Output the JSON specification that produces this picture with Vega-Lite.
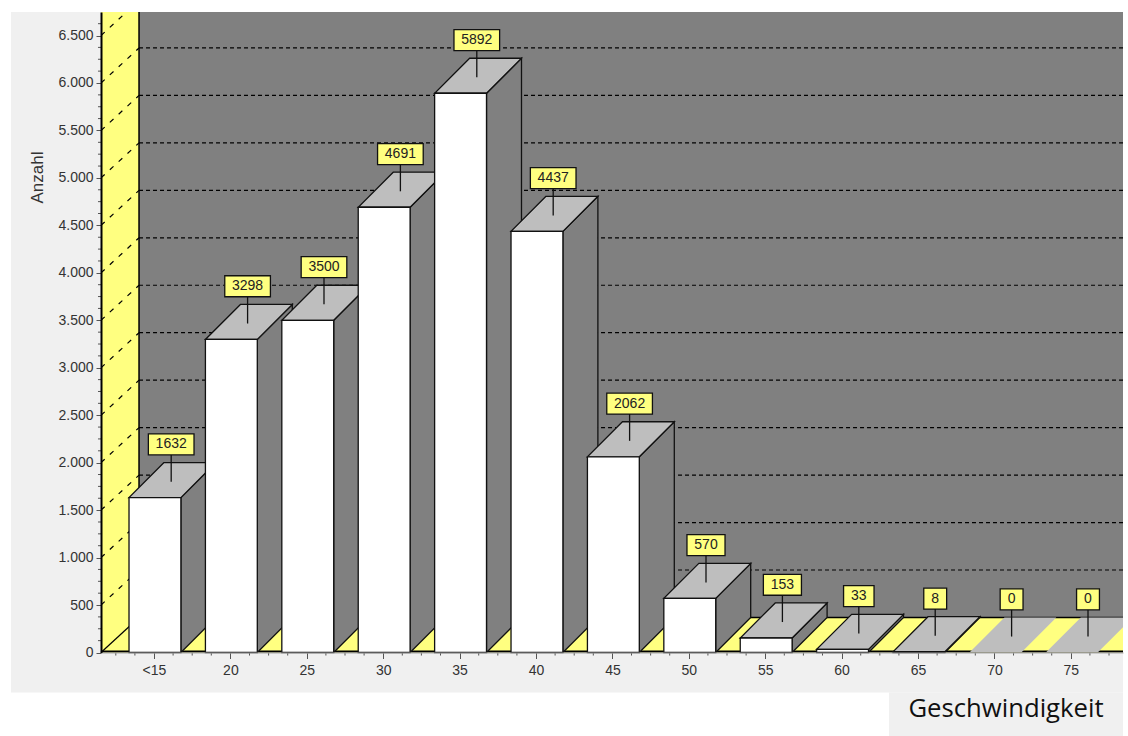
{
"$schema":"https://vega.github.io/schema/vega-lite/v6.json",
"width":1022,"height":640.5,"autosize":"none",
"padding":{"left":101,"top":12,"right":5,"bottom":83.5},
"background":"#ffffff",
"config":{"view":{"stroke":null}},
"data":{"values":[
{"geschwindigkeit":"<15","anzahl":1632},{"geschwindigkeit":"20","anzahl":3298},{"geschwindigkeit":"25","anzahl":3500},{"geschwindigkeit":"30","anzahl":4691},{"geschwindigkeit":"35","anzahl":5892},{"geschwindigkeit":"40","anzahl":4437},{"geschwindigkeit":"45","anzahl":2062},{"geschwindigkeit":"50","anzahl":570},{"geschwindigkeit":"55","anzahl":153},{"geschwindigkeit":"60","anzahl":33},{"geschwindigkeit":"65","anzahl":8},{"geschwindigkeit":"70","anzahl":0},{"geschwindigkeit":"75","anzahl":0}]},
"transform":[
{"window":[{"op":"row_number","as":"nr"}]},
{"calculate":"datum.nr-1","as":"pos"},
{"calculate":"[0,1]","as":"d"},
{"flatten":["d"]},
{"calculate":"datum.pos-0.327+0.458*datum.d","as":"links"},
{"calculate":"datum.pos+0.352+0.458*datum.d","as":"rechts"},
{"calculate":"datum.anzahl+369*datum.d","as":"oben"},
{"calculate":"369*datum.d","as":"unten"},
{"calculate":"0.0497*length(''+datum.anzahl)+0.1","as":"halb"},
{"calculate":"datum.pos+0.225","as":"mitte"},
{"calculate":"datum.mitte-datum.halb","as":"boxL"},
{"calculate":"datum.mitte+datum.halb","as":"boxR"},
{"calculate":"datum.anzahl+168","as":"lineU"},
{"calculate":"datum.anzahl+450","as":"boxU"},
{"calculate":"datum.anzahl+671","as":"boxO"},
{"calculate":"datum.anzahl+560","as":"textY"},
{"calculate":"0","as":"basis"}
],
"layer":[
{"data":{"values":[{"flaeche":"Diagramm"}]},
 "transform":[{"calculate":"-1.872","as":"a"},{"calculate":"12.683","as":"b"},{"calculate":"-421","as":"c"},{"calculate":"6748","as":"e"}],
 "mark":{"type":"rect","fill":"#f0f0f0"},
 "encoding":{
  "x":{"field":"a","type":"quantitative","scale":{"domain":[-0.6937,12.683],"nice":false,"zero":false},
   "axis":{"zindex":1,"title":"Geschwindigkeit","titleFont":"Open Sans","titleFontSize":25.7,"titleFontWeight":"normal","titleColor":"#111111","titleX":904.5,"titleY":56,"titleAlign":"center","titleBaseline":"middle",
    "grid":false,"domainColor":"#a8a8a8","domainWidth":1,"tickColor":"#555555","tickSize":6,
    "values":[0,1,2,3,4,5,6,7,8,9,10,11,12],
    "labelExpr":"datum.value === 0 ? '<15' : '' + (15 + 5 * datum.value)",
    "labelFont":"Liberation Sans","labelFontSize":14,"labelColor":"#333333","labelPadding":5,"labelFlush":false,"labelOverlap":false}},
  "x2":{"field":"b"},
  "y":{"field":"c","type":"quantitative","scale":{"domain":[0,6748],"nice":false,"zero":false},
   "axis":{"zindex":1,"title":"Anzahl","titleFont":"Liberation Sans","titleFontSize":17,"titleFontWeight":"normal","titleColor":"#333333","titleX":-64,"titleY":165,"titleAlign":"center","titleBaseline":"middle",
    "grid":false,"domainColor":"#000000","domainWidth":2,"tickColor":"#555555","tickSize":5,
    "values":[0,500,1000,1500,2000,2500,3000,3500,4000,4500,5000,5500,6000,6500],
    "labelExpr":"replace(format(datum.value, ','), ',', '.')",
    "labelFont":"Liberation Sans","labelFontSize":14,"labelColor":"#333333","labelPadding":3,"labelOverlap":false,"labelFlush":false}},
  "y2":{"field":"e"}}},
{"data":{"values":[{"flaeche":"Titel"}]},
 "transform":[{"calculate":"9.62","as":"a"},{"calculate":"12.683","as":"b"},{"calculate":"-421","as":"c"},{"calculate":"-885","as":"e"}],
 "mark":{"type":"rect","fill":"#f0f0f0"},
 "encoding":{"x":{"field":"a","type":"quantitative"},"x2":{"field":"b"},"y":{"field":"c","type":"quantitative"},"y2":{"field":"e"}}},
{"data":{"values":[{"stelle":-0.5},{"stelle":-0.25},{"stelle":0.25},{"stelle":0.5},{"stelle":0.75},{"stelle":1.25},{"stelle":1.5},{"stelle":1.75},{"stelle":2.25},{"stelle":2.5},{"stelle":2.75},{"stelle":3.25},{"stelle":3.5},{"stelle":3.75},{"stelle":4.25},{"stelle":4.5},{"stelle":4.75},{"stelle":5.25},{"stelle":5.5},{"stelle":5.75},{"stelle":6.25},{"stelle":6.5},{"stelle":6.75},{"stelle":7.25},{"stelle":7.5},{"stelle":7.75},{"stelle":8.25},{"stelle":8.5},{"stelle":8.75},{"stelle":9.25},{"stelle":9.5},{"stelle":9.75},{"stelle":10.25},{"stelle":10.5},{"stelle":10.75},{"stelle":11.25},{"stelle":11.5},{"stelle":11.75},{"stelle":12.25},{"stelle":12.5}]},
 "transform":[{"calculate":"0","as":"c"},{"calculate":"-32","as":"e"}],
 "mark":{"type":"rule","color":"#555555","strokeWidth":1},
 "encoding":{"x":{"field":"stelle","type":"quantitative"},"y":{"field":"c","type":"quantitative"},"y2":{"field":"e"}}},
{"data":{"values":[{"stelle":125},{"stelle":250},{"stelle":375},{"stelle":625},{"stelle":750},{"stelle":875},{"stelle":1125},{"stelle":1250},{"stelle":1375},{"stelle":1625},{"stelle":1750},{"stelle":1875},{"stelle":2125},{"stelle":2250},{"stelle":2375},{"stelle":2625},{"stelle":2750},{"stelle":2875},{"stelle":3125},{"stelle":3250},{"stelle":3375},{"stelle":3625},{"stelle":3750},{"stelle":3875},{"stelle":4125},{"stelle":4250},{"stelle":4375},{"stelle":4625},{"stelle":4750},{"stelle":4875},{"stelle":5125},{"stelle":5250},{"stelle":5375},{"stelle":5625},{"stelle":5750},{"stelle":5875},{"stelle":6125},{"stelle":6250},{"stelle":6375},{"stelle":6625}]},
 "transform":[{"calculate":"-0.6937","as":"a"},{"calculate":"-0.733","as":"b"}],
 "mark":{"type":"rule","color":"#555555","strokeWidth":1},
 "encoding":{"x":{"field":"a","type":"quantitative"},"x2":{"field":"b"},"y":{"field":"stelle","type":"quantitative"}}},
{"data":{"values":[{"flaeche":"Wand"}]},
 "transform":[{"calculate":"-0.196","as":"a"},{"calculate":"12.683","as":"b"},{"calculate":"369","as":"c"},{"calculate":"6748","as":"e"}],
 "mark":{"type":"rect","fill":"#808080"},
 "encoding":{"x":{"field":"a","type":"quantitative"},"x2":{"field":"b"},"y":{"field":"c","type":"quantitative"},"y2":{"field":"e"}}},
{"data":{"values":[{"flaeche":"Seitenwand"}]},
 "transform":[{"calculate":"-0.6937","as":"a"},{"calculate":"-0.196","as":"b"},{"calculate":"0","as":"c"},{"calculate":"6748","as":"e"}],
 "mark":{"type":"rect","fill":"#ffff80"},
 "encoding":{"x":{"field":"a","type":"quantitative"},"x2":{"field":"b"},"y":{"field":"c","type":"quantitative"},"y2":{"field":"e"}}},
{"data":{"values":[{"flaeche":"Boden"}]},
 "transform":[{"calculate":"-0.6937","as":"a"},{"calculate":"12.683","as":"b"},{"calculate":"0","as":"c"},{"calculate":"369","as":"e"}],
 "mark":{"type":"rect","fill":"#ffff80"},
 "encoding":{"x":{"field":"a","type":"quantitative"},"x2":{"field":"b"},"y":{"field":"c","type":"quantitative"},"y2":{"field":"e"}}},
{"data":{"values":[{"flaeche":"Bodenkante"}]},
 "transform":[{"calculate":"-0.6937","as":"a"},{"calculate":"12.683","as":"b"},{"calculate":"0","as":"c"}],
 "mark":{"type":"rule","color":"#000000","strokeWidth":2,"yOffset":-1},
 "encoding":{"x":{"field":"a","type":"quantitative"},"x2":{"field":"b"},"y":{"field":"c","type":"quantitative"}}},
{"data":{"values":[{"flaeche":"Bodenkante hinten"}]},
 "transform":[{"calculate":"-0.196","as":"a"},{"calculate":"12.683","as":"b"},{"calculate":"369","as":"c"}],
 "mark":{"type":"rule","color":"#000000","strokeWidth":1.5,"clip":true},
 "encoding":{"x":{"field":"a","type":"quantitative"},"x2":{"field":"b"},"y":{"field":"c","type":"quantitative"}}},
{"data":{"values":[{"flaeche":"Wandkante"}]},
 "transform":[{"calculate":"-0.196","as":"a"},{"calculate":"369","as":"c"},{"calculate":"6748","as":"e"}],
 "mark":{"type":"rule","color":"#000000","strokeWidth":1.5},
 "encoding":{"x":{"field":"a","type":"quantitative"},"y":{"field":"c","type":"quantitative"},"y2":{"field":"e"}}},
{"data":{"values":[{"wert":500},{"wert":1000},{"wert":1500},{"wert":2000},{"wert":2500},{"wert":3000},{"wert":3500},{"wert":4000},{"wert":4500},{"wert":5000},{"wert":5500},{"wert":6000}]},
 "transform":[{"calculate":"datum.wert+369","as":"hinten"},{"calculate":"-0.196","as":"a"},{"calculate":"12.683","as":"b"}],
 "mark":{"type":"rule","color":"#000000","strokeWidth":1.2,"strokeDash":[4,3],"clip":true},
 "encoding":{"x":{"field":"a","type":"quantitative"},"x2":{"field":"b"},"y":{"field":"hinten","type":"quantitative"}}},
{"data":{"values":[{"wert":500},{"wert":1000},{"wert":1500},{"wert":2000},{"wert":2500},{"wert":3000},{"wert":3500},{"wert":4000},{"wert":4500},{"wert":5000},{"wert":5500},{"wert":6000},{"wert":6500}]},
 "transform":[{"calculate":"datum.wert+369","as":"hinten"},{"calculate":"-0.6937","as":"a"},{"calculate":"-0.196","as":"b"}],
 "mark":{"type":"rule","color":"#000000","strokeWidth":1.2,"strokeDash":[5,7],"clip":true},
 "encoding":{"x":{"field":"a","type":"quantitative"},"x2":{"field":"b"},"y":{"field":"wert","type":"quantitative"},"y2":{"field":"hinten"}}},
{"data":{"values":[{"wert":0}]},
 "transform":[{"calculate":"datum.wert+369","as":"hinten"},{"calculate":"-0.6937","as":"a"},{"calculate":"-0.196","as":"b"}],
 "mark":{"type":"rule","color":"#000000","strokeWidth":1.2},
 "encoding":{"x":{"field":"a","type":"quantitative"},"x2":{"field":"b"},"y":{"field":"wert","type":"quantitative"},"y2":{"field":"hinten"}}},
{"transform":[{"filter":"datum.anzahl > 0"}],
 "mark":{"type":"area","orient":"vertical","fill":"#808080","stroke":"#111111","strokeWidth":1.3,"clip":true},
 "encoding":{"x":{"field":"rechts","type":"quantitative"},"y":{"field":"oben","type":"quantitative","stack":null},"y2":{"field":"unten"},"detail":{"field":"geschwindigkeit"}}},
{"transform":[{"filter":"datum.anzahl > 0"}],
 "mark":{"type":"area","orient":"horizontal","fill":"#bebebe","stroke":"#111111","strokeWidth":1.3,"clip":true},
 "encoding":{"y":{"field":"oben","type":"quantitative"},"x":{"field":"links","type":"quantitative","stack":null},"x2":{"field":"rechts"},"detail":{"field":"geschwindigkeit"}}},
{"transform":[{"filter":"datum.anzahl === 0"}],
 "mark":{"type":"area","orient":"horizontal","fill":"#bebebe","clip":true},
 "encoding":{"y":{"field":"oben","type":"quantitative"},"x":{"field":"links","type":"quantitative","stack":null},"x2":{"field":"rechts"},"detail":{"field":"geschwindigkeit"}}},
{"transform":[{"filter":"datum.anzahl > 0 && datum.d === 0"}],
 "mark":{"type":"rect","fill":"#ffffff","stroke":"#111111","strokeWidth":1.3},
 "encoding":{"x":{"field":"links","type":"quantitative"},"x2":{"field":"rechts"},"y":{"field":"basis","type":"quantitative"},"y2":{"field":"anzahl"}}},
{"transform":[{"filter":"datum.d === 0"}],
 "mark":{"type":"rule","color":"#111111","strokeWidth":1.3},
 "encoding":{"x":{"field":"mitte","type":"quantitative"},"y":{"field":"lineU","type":"quantitative"},"y2":{"field":"boxU"}}},
{"transform":[{"filter":"datum.d === 0"}],
 "mark":{"type":"rect","fill":"#ffff80","stroke":"#111111","strokeWidth":1.3},
 "encoding":{"x":{"field":"boxL","type":"quantitative"},"x2":{"field":"boxR"},"y":{"field":"boxU","type":"quantitative"},"y2":{"field":"boxO"}}},
{"transform":[{"filter":"datum.d === 0"}],
 "mark":{"type":"text","font":"Liberation Sans","fontSize":14,"color":"#222222","align":"center","baseline":"middle"},
 "encoding":{"x":{"field":"mitte","type":"quantitative"},"y":{"field":"textY","type":"quantitative"},"text":{"field":"anzahl","type":"nominal"}}}
]
}
